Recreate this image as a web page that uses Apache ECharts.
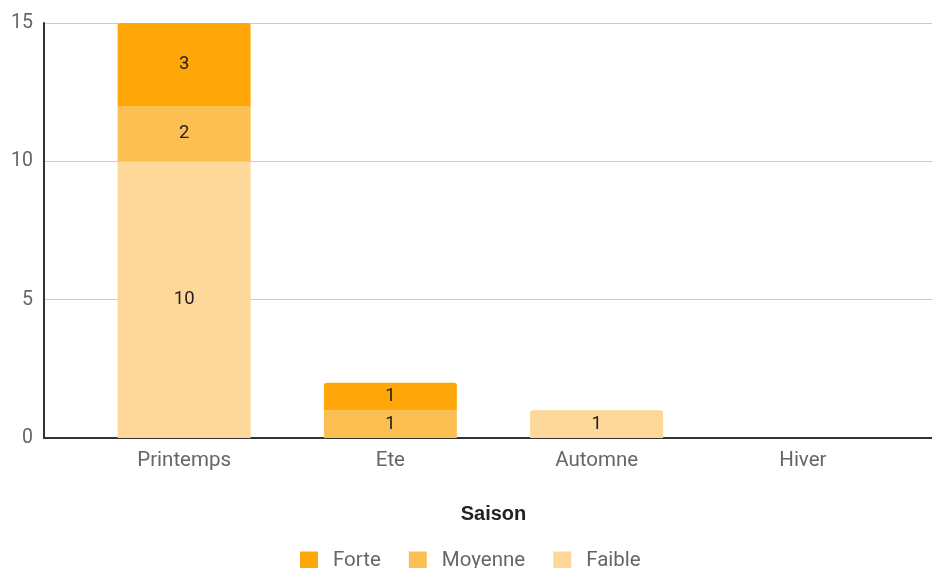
<!DOCTYPE html>
<html><head><meta charset="utf-8">
<script src="https://cdn.jsdelivr.net/npm/echarts@6/dist/echarts.min.js"></script>
<style>html,body{margin:0;padding:0;background:#fff}#c{width:932px;height:568px}</style>
</head><body><div id="c"></div>
<script>
var categories = ['Printemps', 'Ete', 'Automne', 'Hiver'];
var faible = [10, 0, 1, 0];
var moyenne = [2, 1, 0, 0];
var forte = [3, 1, 0, 0];
var yTicks = [0, 5, 10, 15];

var FONT = 'Roboto';
function mk(name, arr, color, radius){
  return {
    name: name, type: 'bar', stack: 's', barWidth: 133,
    xAxisIndex: 1, yAxisIndex: 1,
    data: arr,
    itemStyle: {color: color, borderRadius: radius},
    label: {show: true, position: 'inside', color: '#222', fontSize: 18.5, fontFamily: FONT,
      formatter: function(p){ return p.value ? String(p.value) : ''; }},
    emphasis: {disabled: true}
  };
}
var chart = echarts.init(document.getElementById('c'), null, {renderer: 'canvas'});
chart.setOption({
  animation: false,
  grid: [
    {left: 44, right: 0, top: 23, bottom: 130, containLabel: false},
    {left: 81, right: 26, top: 23, bottom: 130, containLabel: false}
  ],
  xAxis: [{
    gridIndex: 0, type: 'value', min: 0, max: 1,
    splitLine: {show: false}, axisTick: {show: false}, axisLabel: {show: false},
    axisLine: {show: true, onZero: false, lineStyle: {color: '#333', width: 2}}
  }, {
    gridIndex: 1, type: 'category', data: categories,
    axisLine: {show: false}, axisTick: {show: false}, splitLine: {show: false},
    axisLabel: {color: '#666', fontSize: 20.5, fontFamily: FONT, margin: 12},
    name: 'Saison', nameLocation: 'middle', nameGap: 66,
    nameTextStyle: {color: '#222', fontSize: 20, fontWeight: 'bold', fontFamily: 'Liberation Sans'}
  }],
  yAxis: [{
    gridIndex: 0, type: 'value', min: 0, max: 15, interval: 5,
    axisLine: {show: true, onZero: false, lineStyle: {color: '#333', width: 2}},
    axisTick: {show: false},
    splitLine: {show: true, lineStyle: {color: '#ccc', width: 1}},
    axisLabel: {color: '#666', fontSize: 19.5, fontFamily: FONT, margin: 11,
      formatter: function(v){ return yTicks.indexOf(v) >= 0 ? String(v) : ''; }}
  }, {
    gridIndex: 1, type: 'value', min: 0, max: 15, interval: 5, show: false
  }],
  legend: {
    data: ['Forte', 'Moyenne', 'Faible'],
    left: 295, top: 545, itemWidth: 18, itemHeight: 18, itemGap: 28, icon: 'rect',
    textStyle: {color: '#666', fontSize: 20.5, fontFamily: FONT, padding: [0,0,0,10]}
  },
  series: [
    mk('Faible', faible, '#fdd898', [3,3,0,0]),
    mk('Moyenne', moyenne, '#fbbf52', 0),
    mk('Forte', forte, '#ffa608', [3,3,0,0])
  ]
});
</script></body></html>
